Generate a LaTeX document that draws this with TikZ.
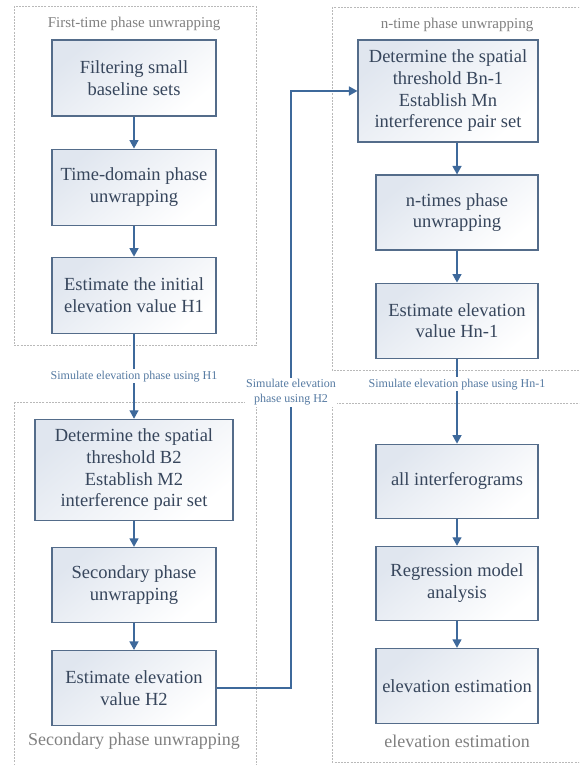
\documentclass[tikz,border=0pt]{standalone}
\usepackage{fontspec}
\setmainfont{Liberation Serif}
\usetikzlibrary{arrows.meta,positioning}

\definecolor{boxline}{RGB}{84,108,138}
\definecolor{boxtext}{RGB}{55,70,92}
\definecolor{boxtop}{RGB}{224,230,239}
\definecolor{flowc}{RGB}{62,105,155}
\definecolor{lbltext}{RGB}{85,122,162}
\definecolor{titlec}{RGB}{128,128,128}
\definecolor{dashc}{RGB}{185,185,185}

\tikzset{
  stepbox/.style={draw=boxline, line width=1.1pt, top color=boxtop, bottom color=white,
    shading angle=40, text=boxtext, align=center, inner sep=0pt,
    font=\fontsize{18.5}{21.7}\selectfont},
  flow/.style={draw=flowc, line width=1.4pt, -{Triangle[width=9pt,length=8.5pt]}},
  lbl/.style={fill=white, text=lbltext, align=center, inner sep=1.5pt,
    font=\fontsize{12}{15}\selectfont},
  groupbox/.style={draw=dashc, line width=0.8pt, dash pattern=on 2pt off 1.2pt},
  smalltitle/.style={text=titlec, font=\fontsize{15}{18}\selectfont},
  bigtitle/.style={text=titlec, font=\fontsize{18}{21}\selectfont}
}

\begin{document}
\begin{tikzpicture}[x=1pt, y=-1pt]
\clip (0,0) rectangle (579,765);

% dashed phase groups
\draw[groupbox] (14,6) rectangle (256,345);
\draw[groupbox] (14,402) rectangle (256,772);
\draw[groupbox] (332,7) rectangle (600,370);
\draw[groupbox] (332,403) rectangle (600,762);

\node[smalltitle] (firsttitle) at (134,24) {First-time phase unwrapping};
\node[smalltitle] (ntitle) at (457,25) {n-time phase unwrapping};
\node[bigtitle] (sectitle) at (134,741) {Secondary phase unwrapping};
\node[bigtitle] (elevtitle) at (457,741) {elevation estimation};

% left column
\node[stepbox, minimum width=164pt, minimum height=76pt] (filter) at (134,78) {Filtering small\\baseline sets};
\node[stepbox, minimum width=164pt, minimum height=76pt, below=32pt of filter] (timedom) {Time-domain phase\\unwrapping};
\node[stepbox, minimum width=164pt, minimum height=76pt, below=31pt of timedom] (initH) {Estimate the initial\\elevation value H1};
\node[stepbox, minimum width=198pt, minimum height=101pt, below=85pt of initH] (thrB) {Determine the spatial\\threshold B2\\Establish M2\\interference pair set};
\node[stepbox, minimum width=164pt, minimum height=75pt, below=26pt of thrB] (secun) {Secondary phase\\unwrapping};
\node[stepbox, minimum width=164pt, minimum height=75pt, below=27pt of secun] (estH) {Estimate elevation\\value H2};

% right column
\node[stepbox, minimum width=180pt, minimum height=102pt] (thrBn) at (448,91) {Determine the spatial\\threshold Bn-1\\Establish Mn\\interference pair set};
\node[stepbox, minimum width=162pt, minimum height=75pt] (nun) at (457,212.5) {n-times phase\\unwrapping};
\node[stepbox, minimum width=162pt, minimum height=75pt, below=32pt of nun] (estHn) {Estimate elevation\\value Hn-1};
\node[stepbox, minimum width=162pt, minimum height=74pt, below=85pt of estHn] (allif) {all interferograms};
\node[stepbox, minimum width=162pt, minimum height=74pt, below=27pt of allif] (regr) {Regression model\\analysis};
\node[stepbox, minimum width=162pt, minimum height=75pt, below=27pt of regr] (elest) {elevation estimation};

\coordinate (loopx) at (291,0);

% connectors
\draw[flow] (filter) -- (timedom);
\draw[flow] (timedom) -- (initH);
\draw[flow] (initH) -- node[lbl, pos=0.5] {Simulate elevation phase using H1} (thrB);
\draw[flow] (thrB) -- (secun);
\draw[flow] (secun) -- (estH);
\draw[flow] (estH.east) -- (estH.east -| loopx) -- node[lbl, pos=0.495] {Simulate elevation\\phase using H2} (thrBn.west -| loopx) -- (thrBn.west);
\draw[flow] (nun.north |- thrBn.south) -- (nun.north);
\draw[flow] (nun) -- (estHn);
\draw[flow] (estHn) -- node[lbl, pos=0.3] {Simulate elevation phase using Hn-1} (allif);
\draw[flow] (allif) -- (regr);
\draw[flow] (regr) -- (elest);

\end{tikzpicture}
\end{document}
